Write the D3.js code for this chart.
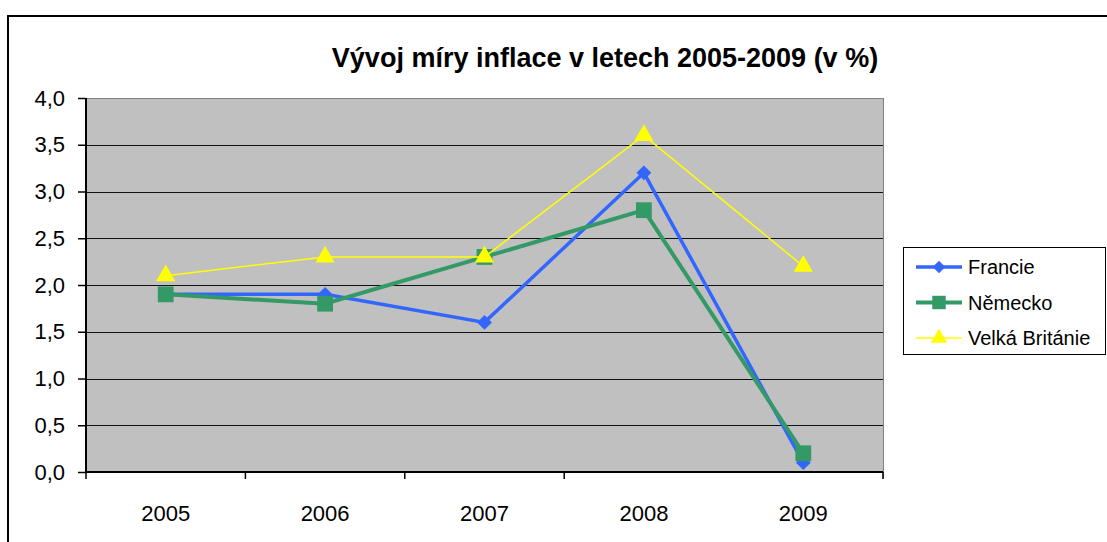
<!DOCTYPE html>
<html>
<head>
<meta charset="utf-8">
<script src="https://cdn.jsdelivr.net/npm/d3@7"></script>
<style>
  body { margin: 0; background: #fff; }
  svg { display: block; font-family: "Liberation Sans", Arial, sans-serif; }
</style>
</head>
<body>
<script>
// data
var years = ["2005", "2006", "2007", "2008", "2009"],
    yTicks = [0, 0.5, 1, 1.5, 2, 2.5, 3, 3.5, 4],
    francie = [1.9, 1.9, 1.6, 3.2, 0.1],
    nemecko = [1.9, 1.8, 2.3, 2.8, 0.2],
    britanie = [2.1, 2.3, 2.3, 3.6, 2.2],
    seriesNames = ["Francie", "Německo", "Velká Británie"];

var width = 1107,
    height = 542,
    plot = { left: 86, top: 98, right: 883, bottom: 472 };

var series = [
    { name: seriesNames[0], values: francie, color: "#3366FF", width: 3.5, marker: "diamond" },
    { name: seriesNames[1], values: nemecko, color: "#339966", width: 4, marker: "square" },
    { name: seriesNames[2], values: britanie, color: "#FFFF00", width: 1.5, marker: "triangle" }
];

var svg = d3.select("body").append("svg")
    .attr("width", width)
    .attr("height", height);

// outer frame
svg.append("rect")
    .attr("x", 8).attr("y", 16)
    .attr("width", width + 10).attr("height", height + 10)
    .attr("fill", "#fff")
    .attr("stroke", "#000")
    .attr("stroke-width", 2);

var x = d3.scaleBand()
    .domain(years)
    .range([plot.left, plot.right]);

var y = d3.scaleLinear()
    .domain([0, 4])
    .range([plot.bottom, plot.top]);

svg.append("rect")
    .attr("x", plot.left).attr("y", plot.top)
    .attr("width", plot.right - plot.left)
    .attr("height", plot.bottom - plot.top)
    .attr("fill", "#C0C0C0");

// gridlines
svg.append("g")
    .selectAll("line")
    .data(yTicks.slice(1))
    .enter().append("line")
    .attr("x1", plot.left).attr("x2", plot.right)
    .attr("y1", function (d) { return Math.round(y(d)) + 0.5; })
    .attr("y2", function (d) { return Math.round(y(d)) + 0.5; })
    .attr("stroke", function (d) { return d == 4 ? "#808080" : "#111"; })
    .attr("stroke-width", 1.2);

// right border of plot
svg.append("line")
    .attr("x1", plot.right + 0.5).attr("x2", plot.right + 0.5)
    .attr("y1", plot.top).attr("y2", plot.bottom + 6)
    .attr("stroke", "#808080");

// y axis
var yAxis = svg.append("g")
    .attr("transform", "translate(" + plot.left + ",0)")
    .call(d3.axisLeft(y)
        .tickValues(yTicks)
        .tickSize(8)
        .tickPadding(13)
        .tickFormat(function (d) { return d3.format(".1f")(d).replace(".", ","); }));
yAxis.select(".domain").attr("stroke-width", 2).attr("d", "M0," + plot.top + "V" + plot.bottom);
yAxis.selectAll(".tick line").attr("stroke-width", 1.5);
yAxis.selectAll("text").attr("font-size", 22).attr("font-family", "Liberation Sans, Arial").attr("fill", "#000");

// x axis with ticks on category boundaries
var xAxis = svg.append("g")
    .attr("transform", "translate(0," + plot.bottom + ")")
    .call(d3.axisBottom(x).tickSize(0).tickPadding(33));
xAxis.select(".domain").attr("stroke-width", 2).attr("d", "M" + plot.left + ",0H" + plot.right);
xAxis.selectAll("text").attr("font-size", 22).attr("font-family", "Liberation Sans, Arial").attr("fill", "#000");
xAxis.selectAll(".bound")
    .data(years.slice(0, 4).map(function (d) { return x(d); }).concat([plot.right]))
    .enter().append("line")
    .attr("class", "bound")
    .attr("x1", function (d) { return d; }).attr("x2", function (d) { return d; })
    .attr("y1", 0).attr("y2", 7)
    .attr("stroke", "#000").attr("stroke-width", 1.5);

var symbols = {
    diamond: d3.symbol().type(d3.symbolSquare).size(110),
    square: d3.symbol().type(d3.symbolSquare).size(250),
    triangle: d3.symbol().type(d3.symbolTriangle).size(160)
};

function drawMarker(g, s, cx, cy, scale) {
    var p = g.append("path")
        .attr("d", symbols[s.marker]())
        .attr("fill", s.color);
    var t = "translate(" + cx + "," + cy + ")";
    if (s.marker == "diamond") t += " rotate(45)";
    if (scale) t += " scale(" + scale + ")";
    p.attr("transform", t);
}

var line = d3.line()
    .x(function (d, i) { return x(years[i]) + x.bandwidth() / 2; })
    .y(function (d) { return y(d); });

series.forEach(function (s) {
    var g = svg.append("g");
    g.append("path")
        .datum(s.values)
        .attr("d", line)
        .attr("fill", "none")
        .attr("stroke", s.color)
        .attr("stroke-width", s.width);
    s.values.forEach(function (v, i) {
        drawMarker(g, s, x(years[i]) + x.bandwidth() / 2, y(v));
    });
});

// title
svg.append("text")
    .attr("x", 605).attr("y", 67)
    .attr("text-anchor", "middle")
    .attr("font-size", 27)
    .attr("font-weight", "bold")
    .text("Vývoj míry inflace v letech 2005-2009 (v %)");

// legend
var legend = svg.append("g");
legend.append("rect")
    .attr("x", 903.5).attr("y", 247.5)
    .attr("width", 202).attr("height", 107)
    .attr("fill", "#fff")
    .attr("stroke", "#000")
    .attr("stroke-width", 1);

series.forEach(function (s, i) {
    var ly = 267 + i * 35.5;
    legend.append("line")
        .attr("x1", 916).attr("x2", 962)
        .attr("y1", ly).attr("y2", ly)
        .attr("stroke", s.color)
        .attr("stroke-width", s.width);
    drawMarker(legend, s, 939, ly, 0.85);
    legend.append("text")
        .attr("x", 968).attr("y", ly + 7)
        .attr("font-size", 20)
        .text(s.name);
});
</script>
</body>
</html>
